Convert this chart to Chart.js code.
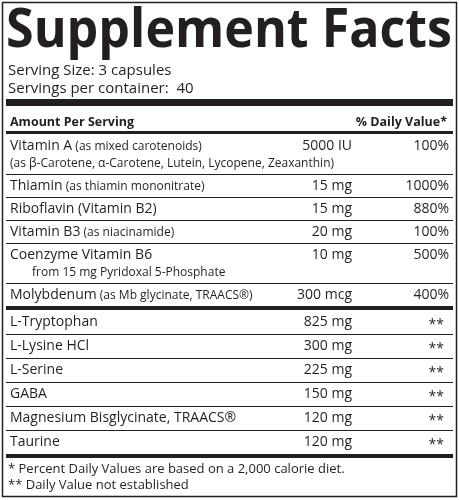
<!DOCTYPE html>
<html><head><meta charset="utf-8">
<script src="https://cdn.jsdelivr.net/npm/chart.js@4"></script>
<style>html,body{margin:0;padding:0;background:#fff}</style>
</head><body>
<canvas id="c" width="459" height="500"></canvas>
<script>
const names = ["Vitamin A","Thiamin","Riboflavin (Vitamin B2)","Vitamin B3","Coenzyme Vitamin B6","Molybdenum","L-Tryptophan","L-Lysine HCl","L-Serine","GABA","Magnesium Bisglycinate, TRAACS®","Taurine"];
const notes = ["(as mixed carotenoids)","(as thiamin mononitrate)","","(as niacinamide)","","(as Mb glycinate, TRAACS®)","","","","","",""];
const subNotes = ["(as β-Carotene, α-Carotene, Lutein, Lycopene, Zeaxanthin)","","","","from 15 mg Pyridoxal 5-Phosphate","","","","","","",""];
const amounts = ["5000 IU","15 mg","15 mg","20 mg","10 mg","300 mcg","825 mg","300 mg","225 mg","150 mg","120 mg","120 mg"];
const dailyValues = ["100%","1000%","880%","100%","500%","400%","**","**","**","**","**","**"];
const footnotes = ["* Percent Daily Values are based on a 2,000 calorie diet.","** Daily Value not established"];

const F = '"Open Sans", sans-serif';
const labelPlugin = {
  id:'label',
  afterDraw(chart){
    const ctx = chart.ctx;
    ctx.save();
    ctx.fillStyle='#231f20'; ctx.strokeStyle='#231f20';
    ctx.lineWidth=1.5; ctx.strokeRect(2.5,2.5,454,494);
    ctx.textBaseline='alphabetic';
    ctx.font='bold 54px '+F; ctx.textAlign='left';
    const t='Supplement Facts';
    const tw=ctx.measureText(t).width;
    ctx.save(); ctx.translate(6,47); ctx.scale(446/tw,1); ctx.fillText(t,0,0); ctx.restore();
    ctx.font='15px '+F;
    ctx.fillText('Serving Size: 3 capsules',8,75);
    ctx.fillText('Servings per container:  40',8,93);
    ctx.fillRect(6,99,447,7);
    ctx.font='bold 12.5px '+F;
    ctx.fillText('Amount Per Serving',10,126);
    ctx.textAlign='right'; ctx.fillText('% Daily Value*',447,126);
    ctx.fillRect(6,131,447,3);
    let y=134;
    names.forEach((n,i)=>{
      const h = subNotes[i] ? 40 : (i>=6?24:23);
      ctx.textAlign='left';
      ctx.font='14px '+F; ctx.fillText(n,10,y+16);
      let w=ctx.measureText(n).width;
      if(notes[i]){ctx.font='12px '+F; ctx.fillText(' '+notes[i],10+w,y+16);}
      if(subNotes[i]){ctx.font='12px '+F; ctx.fillText(subNotes[i], i==0?10:32, y+33);}
      ctx.font='14px '+F; ctx.textAlign='right';
      ctx.fillText(amounts[i],352,y+16);
      ctx.fillText(dailyValues[i], dailyValues[i]=='**'?444:449, y+16+(dailyValues[i]=='**'?3:0));
      y+=h;
      if(i==5||i==11){ctx.fillRect(6,y,447,4); y+=4;}
      else ctx.fillRect(6,y,447,1);
    });
    ctx.textAlign='left'; ctx.font='13px '+F;
    ctx.fillText(footnotes[0],8,y+15);
    ctx.fillText(footnotes[1],8,y+31);
    ctx.restore();
  }
};
new Chart(document.getElementById('c'),{
  type:'scatter',
  data:{labels:names,datasets:[{data:[],pointRadius:0}]},
  options:{responsive:false,animation:false,
    plugins:{legend:{display:false},tooltip:{enabled:false}},
    scales:{x:{display:false},y:{display:false}}},
  plugins:[labelPlugin]
});
</script>
</body></html>
